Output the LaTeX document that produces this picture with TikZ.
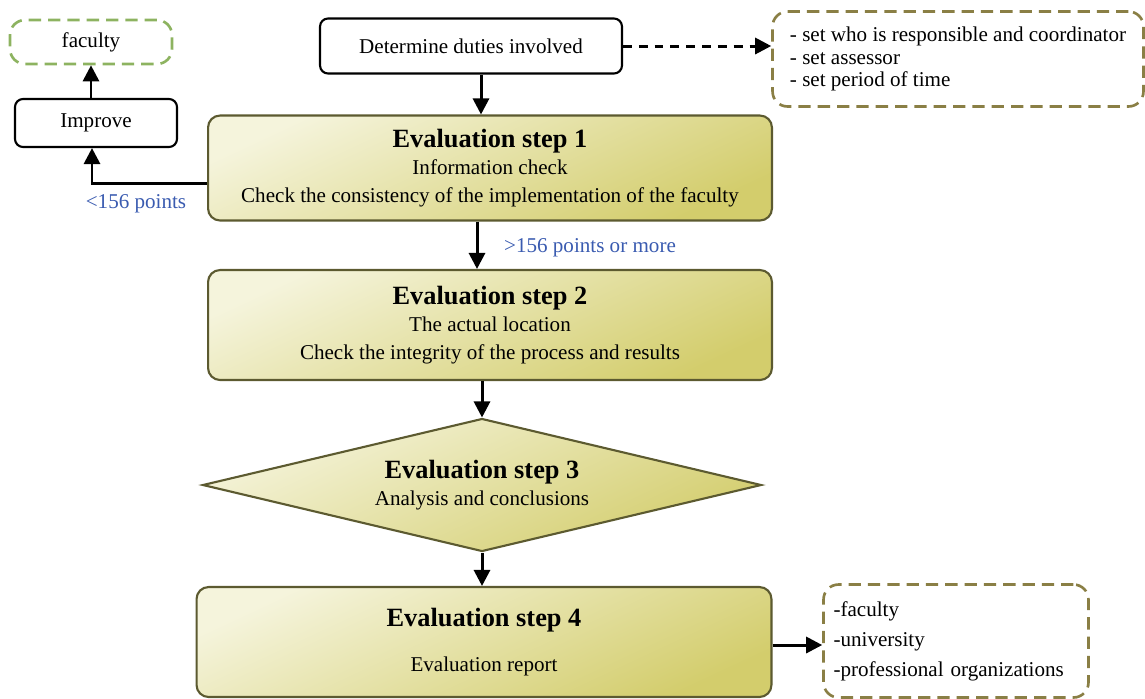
\documentclass[tikz,border=0pt]{standalone}
\usepackage{fontspec}
\setmainfont{Liberation Serif}
\usepackage{xcolor}
\usetikzlibrary{shapes,arrows,arrows.meta,positioning,calc}

\definecolor{stepLight}{HTML}{F5F4DC}
\definecolor{stepDark}{HTML}{D3CD6C}
\definecolor{stepLine}{HTML}{5C5A30}
\definecolor{noteOlive}{HTML}{8A7F45}
\definecolor{noteGreen}{HTML}{8DB360}
\definecolor{pointBlue}{HTML}{3A5BB0}

\newcommand{\steptitle}{\fontsize{15}{17}\selectfont\bfseries}

\begin{document}
\begin{tikzpicture}[
    x=0.02cm, y=-0.02cm,
    body/.style={font=\fontsize{12}{15.5}\selectfont},
    stepbox/.style={rectangle, draw=stepLine, line width=1.2pt, rounded corners=0.24cm,
        top color=stepLight, bottom color=stepDark, shading angle=25,
        align=center, body},
    plainbox/.style={rectangle, draw, line width=1.2pt, rounded corners=0.16cm, body},
    notebox/.style={rectangle, draw=noteOlive, line width=1.5pt, dash pattern=on 7pt off 4pt,
        rounded corners=0.3cm, align=left, body},
    arrow/.style={-{Triangle[length=0.32cm,width=0.32cm]}, line width=1.7pt},
    points/.style={text=pointBlue, body}
]
\useasboundingbox (0,0) rectangle (1145,698);

% Top: duties
\node[plainbox, minimum width=6.04cm, minimum height=1.1cm] (duties) at (471,46) {Determine duties involved};
\node[notebox, minimum width=7.42cm, minimum height=1.9cm,
      font=\fontsize{12}{12.6}\selectfont] (who) at (958,59)
    {- set who is responsible and coordinator\\ - set assessor\\ - set period of time};

% Evaluation step 1
\node[stepbox, minimum width=11.28cm, minimum height=2.1cm] (s1) at (490,168)
    {{\steptitle Evaluation step 1}\\ Information check\\ Check the consistency of the implementation of the faculty};

% Improve branch
\node[plainbox, minimum width=3.24cm, minimum height=0.96cm] (improve) at (96,123) {Improve};
\node[notebox, draw=noteGreen, minimum width=3.24cm, minimum height=0.88cm, align=center] (faculty) at (91,42) {faculty};

% Evaluation step 2
\node[stepbox, minimum width=11.28cm, minimum height=2.2cm] (s2) at (490,325)
    {{\steptitle Evaluation step 2}\\ The actual location\\ Check the integrity of the process and results};

% Evaluation step 3
\node[diamond, draw=stepLine, line width=1.2pt, top color=stepLight, bottom color=stepDark,
      shading angle=25, aspect=4.1, minimum width=11.18cm, minimum height=2.66cm,
      inner sep=0pt, align=center, body] (s3) at (482,485)
    {{\steptitle Evaluation step 3}\\ Analysis and conclusions};

% Evaluation step 4
\node[stepbox, minimum width=11.5cm, minimum height=2.2cm] (s4) at (484,642)
    {{\steptitle Evaluation step 4}\\[10pt] Evaluation report};
\node[notebox, minimum width=5.3cm, minimum height=2.26cm, text width=4.9cm,
      font=\fontsize{12}{17}\selectfont] (report) at (956,641)
    {-faculty\\ -university\\ -professional organizations};

% Connections
\coordinate (c1) at (92,183);
\draw[arrow] (duties.south -| 481,0) -- (s1.north -| 481,0);
\draw[arrow, dash pattern=on 5pt off 4pt] (duties.east) -- (who.west |- duties.east);
\draw[arrow] (s1.west |- c1) -- (c1) -- (improve.south -| c1);
\draw[arrow] (improve.north -| 91,0) -- (faculty.south);
\draw[arrow] (s1.south -| 477,0) -- (s2.north -| 477,0);
\draw[arrow] (s2.south -| 482,0) -- (s3.north);
\draw[arrow] (s3.south) -- (s4.north -| s3.south);
\draw[arrow] (s4.east |- 0,645) -- (report.west |- 0,645);

% Scores
\node[points] (low) at (136,204) {<156 points};
\node[points] (high) at (590,248) {>156 points or more};

\end{tikzpicture}
\end{document}
